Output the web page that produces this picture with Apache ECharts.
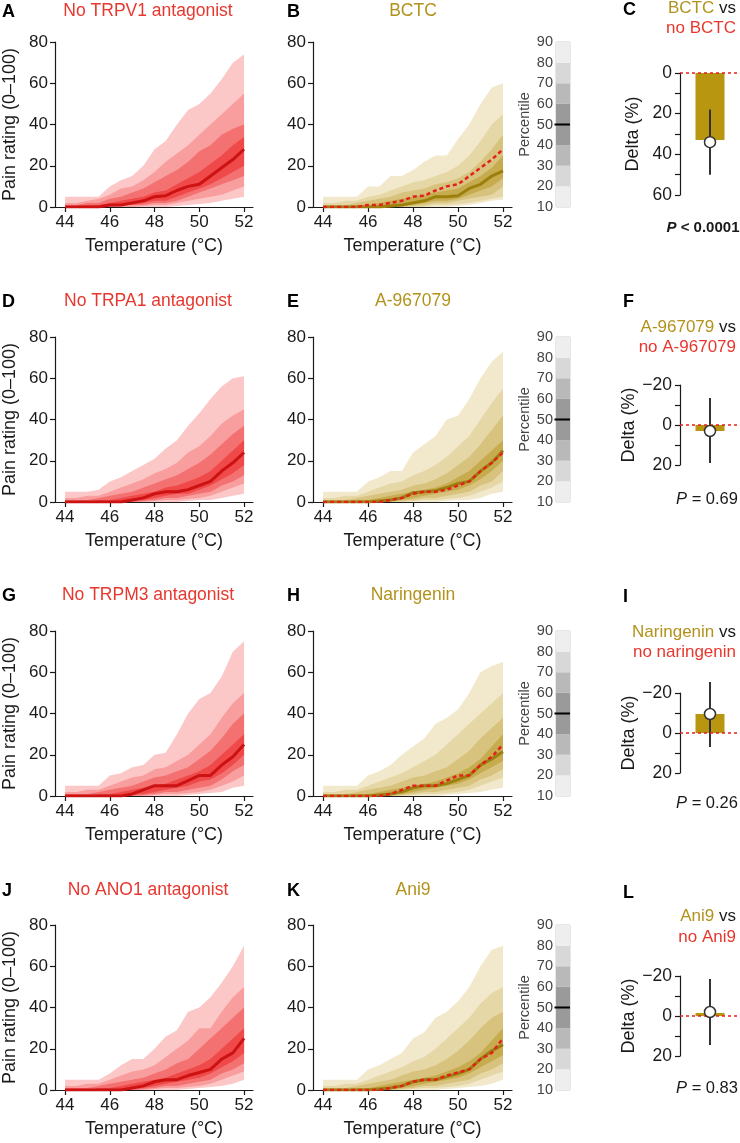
<!DOCTYPE html>
<html><head><meta charset="utf-8">
<script src="https://cdn.jsdelivr.net/npm/echarts@6/dist/echarts.min.js"></script>
<style>html,body{margin:0;padding:0;background:#fff}#c{width:740px;height:1143px}</style>
</head><body><div id="c"></div>
<script>
// ---------------- DATA ----------------
const temps = [44,44.5,45,45.5,46,46.5,47,47.5,48,48.5,49,49.5,50,50.5,51,51.5,52];
const xTicks = [44,46,48,50,52];
const percentileTicks = [10,20,30,40,50,60,70,80,90];
const percentileBounds = [10,20,30,40,60,70,80,90];

// A: No TRPV1 antagonist
const A_p10 = [0,0,0,0,0,0,0,0,0,0,0.5,1,1.5,2,3,4,5];
const A_p20 = [0,0,0,0,0,0,0,0.5,1,1,2,3,4,5,6,8,10];
const A_p30 = [0,0,0,0,0,0.5,1,1,2,2,3,5,7,9,11,13,15];
const A_p40 = [0,0,0,0,0.5,1,1,2,3,3,5,7,9,11,14,17,20];
const A_p50 = [0,0,0,0,1,1,2,3,5,5.5,8,10,11,15,19,23,28];
const A_p60 = [0,0.5,1,1,2,3,4,5,7,8,11,14,17,21,25,30,34];
const A_p70 = [1,1,2,2,4,5,7,9,12,15,18,22,27,30,35,38,40];
const A_p80 = [2,2,3,4,6,9,10,13,17,22,26,30,35,40,45,50,55];
const A_p90 = [5,5,5,5,10,13,15,20,28,32,40,47,50,55,62,70,74];
// B: BCTC
const B_p10 = [0,0,0,0,0,0,0,0,0,0,0,0,0.5,1,2,3,3.5];
const B_p20 = [0,0,0,0,0,0,0,0,0,0,1,1,1.5,2,3,4,5];
const B_p30 = [0,0,0,0,0,0,0,0,0.5,1,2,2,3,4,5,6,10];
const B_p40 = [0,0,0,0,0,0,0,0.5,1,2,3,3,4,6,8,10,14];
const B_p50 = [0,0,0,0,0,0,0.5,1,2,3,5,5,5.5,9,11,15,17.5];
const B_p60 = [0,0,0,1,1,2,3,4,5,6,7,8,9,12,15,19,25];
const B_p70 = [1,1,1,2,3,4,5,7,8,9,11,12,14,17,22,28,35];
const B_p80 = [2,2,3,3,5,6,8,10,12,13,15,17,20,25,32,40,45];
const B_p90 = [5,5,5,5,10,10,15,15,18,22,25,25,33,40,50,58,60];
// D: No TRPA1 antagonist
const D_p10 = [0,0,0,0,0,0,0,0,0,0,0,0.5,1,1,2,3,4];
const D_p20 = [0,0,0,0,0,0,0,0,0.5,1,1,1.5,2,3,5,7,9];
const D_p30 = [0,0,0,0,0,0,0,0.5,1,2,2,3,4,5,8,10,13];
const D_p40 = [0,0,0,0,0,0,0.5,1,2,3,4,4,6,8,11,14,18];
const D_p50 = [0,0,0,0,0,0,1,2,4,5,5,6,8,10,15,19,24];
const D_p60 = [0,0,0,1,1,2,3,4,5,7,8,10,12,15,20,25,30];
const D_p70 = [1,1,1,2,3,4,5,7,9,11,13,16,19,23,28,33,37];
const D_p80 = [2,2,3,3,5,7,9,11,14,16,19,24,27,32,38,42,45];
const D_p90 = [5,5,5,6,10,12,15,18,21,26,30,37,43,50,56,60,61];
// E: A-967079
const E_p10 = [0,0,0,0,0,0,0,0,0,0,0,0.5,1,1,2,4,5];
const E_p20 = [0,0,0,0,0,0,0,0,0.5,1,1,1.5,2,3,5,7,10];
const E_p30 = [0,0,0,0,0,0,0,0.5,1,2,2,3,4,5,8,10,15];
const E_p40 = [0,0,0,0,0,0,0.5,1,2,3,4,5,6,8,11,15,20];
const E_p50 = [0,0,0,0,0,0.5,1,2,4.5,5,5.5,7,9,10,15,19,25];
const E_p60 = [0,0,0,1,1,2,3,4,5,6,7,9,12,15,20,25,30];
const E_p70 = [1,1,1,2,3,4,5,6,8,9,11,14,18,22,28,35,42];
const E_p80 = [2,2,3,3,5,7,9,10,13,15,18,22,27,32,40,48,55];
const E_p90 = [5,5,5,5,10,12,15,15,24,28,32,40,42,50,60,68,73];
// G: No TRPM3 antagonist
const G_p10 = [0,0,0,0,0,0,0,0,0,0,0,0.5,1,1.5,2,4,5];
const G_p20 = [0,0,0,0,0,0,0,0,0.5,1,1,1.5,2,3,5,7,10];
const G_p30 = [0,0,0,0,0,0,0,0.5,1,2,2,3,4,5,8,12,15];
const G_p40 = [0,0,0,0,0,0,0.5,1,2,3,4,5,7,8,11,15,20];
const G_p50 = [0,0,0,0,0,0,1,3,5,5,5,7.5,10,10,15,19,25];
const G_p60 = [0,0,0,1,1,2,3,4,5,6,8,10,12,15,20,25,30];
const G_p70 = [1,1,1,2,3,4,5,7,9,10,12,14,18,22,28,35,40];
const G_p80 = [2,2,3,3,5,7,9,10,13,14,17,20,25,30,38,45,50];
const G_p90 = [5,5,5,5,10,11,14,15,20,21,30,40,47,50,58,70,75];
// H: Naringenin
const H_p10 = [0,0,0,0,0,0,0,0,0,0,0,0.5,1,1.5,2,3,4];
const H_p20 = [0,0,0,0,0,0,0,0,0.5,1,1,1.5,2,3,5,7,9];
const H_p30 = [0,0,0,0,0,0,0,0.5,1,2,2,3,4,5,8,10,13];
const H_p40 = [0,0,0,0,0,0,0.5,1,2,3,4,5,6,8,11,14,17];
const H_p50 = [0,0,0,0,0,0.5,1,2,4,5,5,6,8,10,15,18,21.5];
const H_p60 = [0,0,0,1,1,2,3,4,5,6,7,9,11,14,18,24,30];
const H_p70 = [1,1,1,2,3,4,5,7,9,10,12,14,18,22,28,33,38];
const H_p80 = [2,2,3,3,5,7,9,11,14,17,20,25,30,35,40,45,50];
const H_p90 = [5,5,5,5,10,12,15,20,24,28,35,38,42,50,60,63,65];
// J: No ANO1 antagonist
const J_p10 = [0,0,0,0,0,0,0,0,0,0,0,0.5,1,1.5,2,3,5];
const J_p20 = [0,0,0,0,0,0,0,0,0.5,1,1,1.5,2,3,5,7,9];
const J_p30 = [0,0,0,0,0,0,0,0.5,1,2,2,3,4,5,8,10,13];
const J_p40 = [0,0,0,0,0,0,0.5,1,2,3,4,5,6,8,11,14,18];
const J_p50 = [0,0,0,0,0,0,1,2,4,5,5,7,8.5,10,15,18,25];
const J_p60 = [0,0,0,1,1,2,3,4,5,6,8,10,12,15,20,25,30];
const J_p70 = [1,1,1,2,3,4,5,6,8,10,13,15,20,25,30,35,40];
const J_p80 = [2,2,3,3,5,7,9,10,12,16,20,24,30,30,38,45,50];
const J_p90 = [5,5,5,5,8,12,15,15,20,26,29,38,40,45,52,60,70];
// K: Ani9
const K_p10 = [0,0,0,0,0,0,0,0,0,0,0,0.5,1,1.5,2,3,5];
const K_p20 = [0,0,0,0,0,0,0,0,0.5,1,1,1.5,2,3,5,7,9];
const K_p30 = [0,0,0,0,0,0,0,0.5,1,2,2,3,4,5,8,10,13];
const K_p40 = [0,0,0,0,0,0,0.5,1,2,3,4,5,6,8,11,14,17];
const K_p50 = [0,0,0,0,0,0.5,1,2,4,5,5,6.5,8,10,15,19,22];
const K_p60 = [0,0,0,1,1,2,3,4,5,6,7,9,11,14,18,24,30];
const K_p70 = [1,1,1,2,3,4,5,7,9,10,12,15,19,24,30,35,38];
const K_p80 = [2,2,3,3,5,7,9,11,14,16,20,25,30,35,42,47,50];
const K_p90 = [5,5,5,5,10,12,15,18,25,28,35,38,43,50,60,68,70];

// Delta panels (C, F, I, L)
const deltaBar   = [33, 3, -9.5, -1.5];
const deltaPoint = [34, 3, -9.5, -2];
const deltaLow   = [18, -13.5, -25.5, -18.5];
const deltaHigh  = [50, 19, 7, 14.5];
const deltaMin   = [0, -20, -20, -20];
const deltaMax   = [60, 20, 20, 20];

const redTitles = ['No TRPV1 antagonist','No TRPA1 antagonist','No TRPM3 antagonist','No ANO1 antagonist'];
const drugNames = ['BCTC','A-967079','Naringenin','Ani9'];
const noDrugNames = ['no BCTC','no A-967079','no naringenin','no Ani9'];
const pTexts = ['< 0.0001','= 0.69','= 0.26','= 0.83'];
const letters = [['A','B','C'],['D','E','F'],['G','H','I'],['J','K','L']];

// ---------------- BUILD ----------------
const redPanels  = [[A_p10,A_p20,A_p30,A_p40,A_p50,A_p60,A_p70,A_p80,A_p90],
                    [D_p10,D_p20,D_p30,D_p40,D_p50,D_p60,D_p70,D_p80,D_p90],
                    [G_p10,G_p20,G_p30,G_p40,G_p50,G_p60,G_p70,G_p80,G_p90],
                    [J_p10,J_p20,J_p30,J_p40,J_p50,J_p60,J_p70,J_p80,J_p90]];
const goldPanels = [[B_p10,B_p20,B_p30,B_p40,B_p50,B_p60,B_p70,B_p80,B_p90],
                    [E_p10,E_p20,E_p30,E_p40,E_p50,E_p60,E_p70,E_p80,E_p90],
                    [H_p10,H_p20,H_p30,H_p40,H_p50,H_p60,H_p70,H_p80,H_p90],
                    [K_p10,K_p20,K_p30,K_p40,K_p50,K_p60,K_p70,K_p80,K_p90]];

const FONT = '"Liberation Sans", Arial, Helvetica, sans-serif';
const INK = '#1a1a1a';
const RED_PAL  = ['#fcc7c7','#f99e9e','#f47171','#ef4949'];
const GOLD_PAL = ['#f2e9cd','#e6d7a6','#d8c37e','#c7ab4f'];
const RED_LINE = '#cc1212', GOLD_LINE = '#9c800e', RED_DASH = '#e3201b';
const RED_TXT = '#e8372e', GOLD_TXT = '#b3921c';
const PCT_SHADES = ['#eeeeee','#d8d8d8','#b9b9b9','#9a9a9a'];

const rowLayout = [
  {top:42,  titleY:11,  dTop:73,  dH:122, dLetter:10,  dT1:8,   dT2:28,  dP:228},
  {top:337, titleY:301, dTop:385, dH:80,  dLetter:302, dT1:327, dT2:347, dP:499},
  {top:631, titleY:595, dTop:693, dH:80,  dLetter:597, dT1:632, dT2:652, dP:803},
  {top:925, titleY:890, dTop:976, dH:80,  dLetter:893, dT1:916, dT2:937, dP:1088}
];
const PLOT_H = 165;

const grids=[], xAxes=[], yAxes=[], series=[], graphics=[];

function axisCommon(){
  return {
    axisLine:{show:true, lineStyle:{color:INK, width:1.2}},
    axisTick:{show:true, length:5, lineStyle:{color:INK, width:1.2}},
    splitLine:{show:false},
  };
}

function addBandPanel(left, top, P, pal, lineColor, withYName, dashed){
  const gi = grids.length;
  grids.push({left:left, top:top, width:199, height:PLOT_H});
  xAxes.push(Object.assign(axisCommon(), {
    gridIndex:gi, type:'value', min:43.55, max:52.4,
    axisTick:{show:true, length:5, lineStyle:{color:INK, width:1.2}, customValues:xTicks},
    axisLabel:{customValues:xTicks, fontSize:17, color:INK, fontFamily:FONT, margin:7},
    name:'Temperature (°C)', nameLocation:'middle', nameGap:30,
    nameTextStyle:{fontSize:18, color:INK, fontFamily:FONT}
  }));
  const ya = Object.assign(axisCommon(), {
    gridIndex:gi, type:'value', min:0, max:80, interval:20,
    axisLabel:{fontSize:17, color:INK, fontFamily:FONT, margin:7}
  });
  if (withYName){
    ya.name = 'Pain rating (0–100)'; ya.nameLocation='middle'; ya.nameGap=36;
    ya.nameTextStyle = {fontSize:18, color:INK, fontFamily:FONT};
  }
  yAxes.push(ya);
  // nested percentile bands: [lower, upper] pairs drawn outer to inner
  const bands = [[P[0],P[8]],[P[1],P[7]],[P[2],P[6]],[P[3],P[5]]];
  series.push({
    type:'custom', xAxisIndex:gi, yAxisIndex:gi, silent:true, animation:false, z:1,
    data: bands.map((b,k)=>[temps[0], 0, k]), encode:{x:0, y:1},
    clip:true,
    renderItem:(params, api)=>{
      const k = api.value(2);
      const lo = bands[k][0], hi = bands[k][1];
      const pts = [];
      for (let i=0;i<temps.length;i++) pts.push(api.coord([temps[i], hi[i]]));
      for (let i=temps.length-1;i>=0;i--) pts.push(api.coord([temps[i], lo[i]]));
      return {type:'polygon', shape:{points:pts}, style:{fill:pal[k]}};
    }
  });
  series.push({type:'line', xAxisIndex:gi, yAxisIndex:gi, symbol:'none', silent:true,
    lineStyle:{color:lineColor, width:3}, data: temps.map((t,i)=>[t,P[4][i]]), z:3, animation:false});
  if (dashed){
    series.push({type:'line', xAxisIndex:gi, yAxisIndex:gi, symbol:'none', silent:true,
      lineStyle:{color:RED_DASH, width:2.5, type:[4,3]}, data: temps.map((t,i)=>[t,dashed[i]]), z:4, animation:false});
  }
}

function addPercentileBar(top){
  const gi = grids.length;
  grids.push({left:556, top:top, width:14, height:PLOT_H, show:true, borderColor:'#cfcfcf', borderWidth:1, backgroundColor:'#fff'});
  xAxes.push({gridIndex:gi, type:'value', min:0, max:1, show:false});
  yAxes.push({gridIndex:gi, type:'value', min:10, max:90, interval:10,
    axisLine:{show:false}, axisTick:{show:false}, splitLine:{show:false},
    axisLabel:{fontSize:14.5, color:'#444', fontFamily:FONT, margin:3},
    name:'Percentile', nameLocation:'middle', nameGap:23,
    nameTextStyle:{fontSize:14.5, color:'#444', fontFamily:FONT}});
  const data = [];
  const n = percentileBounds.length;
  for (let i=0;i<n-1;i++){
    const lvl = Math.min(i, n-2-i);
    data.push([percentileBounds[i], percentileBounds[i+1], lvl]);
  }
  series.push({type:'custom', xAxisIndex:gi, yAxisIndex:gi, silent:true, animation:false,
    data: data, encode:{y:[0,1]},
    renderItem:(params, api)=>{
      const p1 = api.coord([0, api.value(1)]);
      const p2 = api.coord([1, api.value(0)]);
      return {type:'rect', shape:{x:p1[0], y:p1[1], width:p2[0]-p1[0], height:p2[1]-p1[1]},
        style:{fill:PCT_SHADES[api.value(2)]}};
    }});
  series.push({type:'custom', xAxisIndex:gi, yAxisIndex:gi, silent:true, animation:false, z:5,
    data:[[50]], encode:{y:0},
    renderItem:(params, api)=>{
      const a = api.coord([0, api.value(0)]);
      const b = api.coord([1, api.value(0)]);
      return {type:'line', shape:{x1:a[0]-1.5, y1:a[1], x2:b[0], y2:b[1]}, style:{stroke:'#000', lineWidth:2}};
    }});
}

function addDeltaPanel(r, L){
  const gi = grids.length;
  grids.push({left:680, top:L.dTop, width:75, height:L.dH});
  xAxes.push({gridIndex:gi, type:'value', min:0, max:1, show:false});
  yAxes.push(Object.assign(axisCommon(), {
    gridIndex:gi, type:'value', inverse:true, min:deltaMin[r], max:deltaMax[r], interval:10,
    axisLabel:{fontSize:17.5, color:INK, fontFamily:FONT, margin:8,
      formatter:(v)=> (v % 20 === 0) ? (v<0 ? '−'+Math.abs(v) : String(v)) : ''},
    name:'Delta (%)', nameLocation:'middle', nameGap:38,
    nameTextStyle:{fontSize:18, color:INK, fontFamily:FONT}
  }));
  series.push({type:'bar', xAxisIndex:gi, yAxisIndex:gi, barWidth:29, silent:true, animation:false,
    itemStyle:{color:'#b8960f'}, data:[[0.5, deltaBar[r]]],
    markLine:{symbol:'none', silent:true, animation:false, label:{show:false},
      lineStyle:{color:RED_DASH, type:[3,3], width:1.5}, data:[{yAxis:0}]}});
  series.push({type:'custom', xAxisIndex:gi, yAxisIndex:gi, silent:true, animation:false, z:4,
    data:[[0.5, deltaLow[r], deltaHigh[r]]], encode:{x:0, y:[1,2]},
    renderItem:(params, api)=>{
      const a = api.coord([api.value(0), api.value(1)]);
      const b = api.coord([api.value(0), api.value(2)]);
      return {type:'line', shape:{x1:a[0], y1:a[1], x2:b[0], y2:b[1]}, style:{stroke:'#333', lineWidth:2}};
    }});
  series.push({type:'scatter', xAxisIndex:gi, yAxisIndex:gi, silent:true, animation:false, z:5,
    symbolSize:11, itemStyle:{color:'#fff', borderColor:'#333', borderWidth:1.5, opacity:1},
    data:[[0.5, deltaPoint[r]]]});
}

function txt(text, x, y, opts){
  graphics.push({type:'text', x:x, y:y, silent:true, style:Object.assign({
    text:text, fill:INK, font:'17px '+FONT, align:'left', verticalAlign:'middle'}, opts||{})});
}

for (let r=0;r<4;r++){
  const L = rowLayout[r];
  addBandPanel(54, L.top, redPanels[r], RED_PAL, RED_LINE, true, null);
  addBandPanel(313, L.top, goldPanels[r], GOLD_PAL, GOLD_LINE, false, redPanels[r][4]);
  addPercentileBar(L.top);
  addDeltaPanel(r, L);
  txt(letters[r][0], 2, L.titleY+1, {font:'bold 18px '+FONT, fill:'#000'});
  txt(letters[r][1], 287, L.titleY+1, {font:'bold 18px '+FONT, fill:'#000'});
  txt(letters[r][2], 623, L.dLetter, {font:'bold 18px '+FONT, fill:'#000'});
  txt(redTitles[r], 148, L.titleY, {font:'17.5px '+FONT, fill:RED_TXT, align:'center'});
  txt(drugNames[r], 413, L.titleY, {font:'17.5px '+FONT, fill:GOLD_TXT, align:'center'});
  txt('{g|'+drugNames[r]+'}{k| vs}', 736, L.dT1, {font:'17px '+FONT, align:'right',
      rich:{g:{fill:GOLD_TXT, font:'17px '+FONT}, k:{fill:INK, font:'17px '+FONT}}});
  txt(noDrugNames[r], 736, L.dT2, {font:'17px '+FONT, fill:RED_TXT, align:'right'});
  const bold = r===0;
  const f = (bold ? 'bold 15px ' : '16.5px ') + FONT;
  const fi = 'italic ' + f;
  txt('{i|P}{n| '+pTexts[r]+'}', bold ? 703 : 707, L.dP, {font:f, align:'center',
      rich:{i:{fill:INK, font:fi}, n:{fill:INK, font:f}}});
}

const chart = echarts.init(document.getElementById('c'), null, {renderer:'canvas', width:740, height:1143});
chart.setOption({
  animation:false,
  backgroundColor:'#fff',
  textStyle:{fontFamily:FONT},
  grid:grids, xAxis:xAxes, yAxis:yAxes, series:series, graphic:graphics
});
</script>
</body></html>
